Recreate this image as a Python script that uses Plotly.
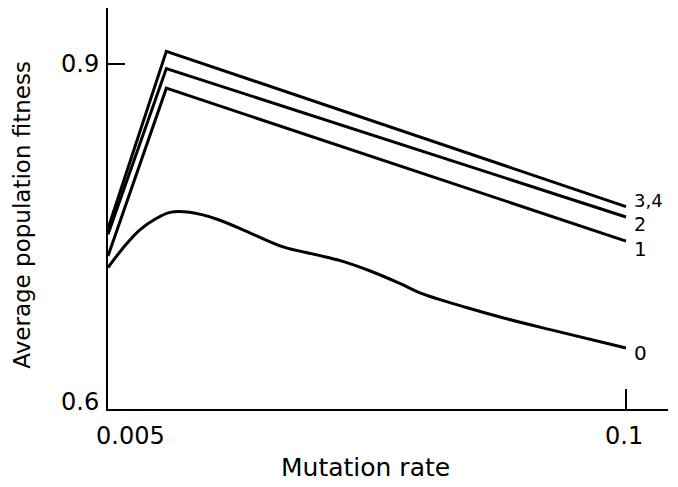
import plotly.graph_objects as go

# Data
x_lines = [0.005, 0.0157, 0.1]
line_34 = [0.757, 0.911, 0.776]
line_2 = [0.752, 0.896, 0.767]
line_1 = [0.733, 0.879, 0.746]

x_curve0 = [0.005, 0.0081, 0.0109, 0.0136, 0.0164, 0.0200, 0.0250, 0.0311, 0.0371,
            0.0433, 0.0476, 0.0531, 0.0586, 0.0622, 0.0709, 0.0769, 0.0861, 0.1]
curve_0 = [0.723, 0.742, 0.756, 0.765, 0.771, 0.771, 0.765, 0.753, 0.741,
           0.734, 0.729, 0.720, 0.709, 0.701, 0.688, 0.680, 0.669, 0.653]

series_labels = ["3,4", "2", "1", "0"]
x_ticks = [0.005, 0.1]
x_tick_labels = ["0.005", "0.1"]
y_ticks = [0.6, 0.9]
y_tick_labels = ["0.6", "0.9"]

FONT = "DejaVu Sans"
line_style = dict(color="black", width=3)

fig = go.Figure()
fig.add_trace(go.Scatter(x=x_lines, y=line_34, mode="lines", line=line_style, name=series_labels[0]))
fig.add_trace(go.Scatter(x=x_lines, y=line_2, mode="lines", line=line_style, name=series_labels[1]))
fig.add_trace(go.Scatter(x=x_lines, y=line_1, mode="lines", line=line_style, name=series_labels[2]))
fig.add_trace(go.Scatter(x=x_curve0, y=curve_0, mode="lines",
                         line=dict(color="black", width=3, shape="spline", smoothing=1.0),
                         name=series_labels[3]))

ends = [line_34[-1], line_2[-1], line_1[-1], curve_0[-1]]
yshifts = [6, -7, -8, -5]
sizes = [18, 19, 20, 20]
for lab, yv, ys, sz in zip(series_labels, ends, yshifts, sizes):
    fig.add_annotation(x=0.1, y=yv, text=lab, showarrow=False, xanchor="left",
                       xshift=6, yshift=ys, font=dict(family=FONT, size=sz, color="black"))

# x tick labels
fig.add_annotation(x=x_ticks[0], y=0.6, text=x_tick_labels[0], showarrow=False,
                   xanchor="center", yanchor="top", xshift=22, yshift=-11,
                   font=dict(family=FONT, size=24, color="black"))
fig.add_annotation(x=x_ticks[1], y=0.6, text=x_tick_labels[1], showarrow=False,
                   xanchor="center", yanchor="top", xshift=-2, yshift=-11,
                   font=dict(family=FONT, size=24, color="black"))
# y tick labels
fig.add_annotation(x=x_ticks[0], y=y_ticks[1], text=y_tick_labels[1], showarrow=False,
                   xanchor="right", yanchor="middle", xshift=-7,
                   font=dict(family=FONT, size=24, color="black"))
fig.add_annotation(x=x_ticks[0], y=y_ticks[0], text=y_tick_labels[0], showarrow=False,
                   xanchor="right", yanchor="middle", xshift=-7, yshift=7,
                   font=dict(family=FONT, size=24, color="black"))
# axis titles
fig.add_annotation(xref="paper", yref="paper", x=0.459, y=-0.145, text="Mutation rate",
                   showarrow=False, xanchor="center", yanchor="middle",
                   font=dict(family=FONT, size=25, color="black"))
fig.add_annotation(xref="paper", yref="paper", x=-0.154, y=0.484, text="Average population fitness",
                   showarrow=False, textangle=-90, xanchor="center", yanchor="middle",
                   font=dict(family=FONT, size=23, color="black"))

fig.update_layout(
    width=670, height=479,
    margin=dict(l=100, r=10, t=0, b=78),
    paper_bgcolor="white", plot_bgcolor="white",
    showlegend=False,
    xaxis=dict(range=[0.005, 0.1077], tickvals=x_ticks, showticklabels=False,
               ticks="inside", ticklen=20, tickwidth=2, tickcolor="black",
               showline=True, linecolor="black", linewidth=2,
               showgrid=False, zeroline=False),
    yaxis=dict(range=[0.6, 0.9487], tickvals=y_ticks, showticklabels=False,
               ticks="inside", ticklen=17, tickwidth=2, tickcolor="black",
               showline=True, linecolor="black", linewidth=2,
               showgrid=False, zeroline=False),
)

fig.write_html("out.html")
